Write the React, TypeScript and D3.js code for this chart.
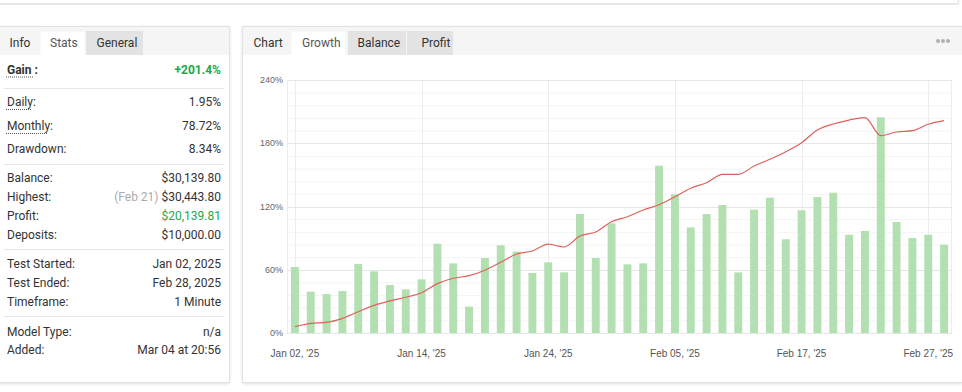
import React from "react";
import * as d3 from "d3";

// trading days, Jan 02 .. Feb 28 2025
const days = [
  "Jan 02", "Jan 03", "Jan 06", "Jan 07", "Jan 08", "Jan 09", "Jan 10",
  "Jan 13", "Jan 14", "Jan 15", "Jan 16", "Jan 17", "Jan 20", "Jan 21",
  "Jan 22", "Jan 23", "Jan 24", "Jan 27", "Jan 28", "Jan 29", "Jan 30",
  "Jan 31", "Feb 03", "Feb 04", "Feb 05", "Feb 06", "Feb 07", "Feb 10",
  "Feb 11", "Feb 12", "Feb 13", "Feb 14", "Feb 17", "Feb 18", "Feb 19",
  "Feb 20", "Feb 21", "Feb 24", "Feb 25", "Feb 26", "Feb 27", "Feb 28",
];

const bars = [
  62.6, 39.2, 37, 39.8, 65.5, 58.5, 45.5, 41.4, 50.9, 84.7, 66.1, 25, 71.1,
  83.2, 77.2, 56.9, 67, 57.5, 112.9, 71.1, 104, 65.1, 66.1, 158.7, 131.5,
  100.2, 112.9, 121.4, 57.5, 117, 128.4, 88.9, 116.4, 129, 133.1, 93.2, 96.8,
  204.6, 105.3, 90.1, 93.2, 83.8,
];

const growth = [
  6.0, 9.2, 10.1, 13.9, 20.2, 26.2, 30.4, 33.9, 38.2, 46.8, 51.9, 54.4, 59.5,
  67.1, 74.9, 77.8, 84.4, 81.6, 92, 95.8, 105.6, 110.3, 116.7, 121.7, 129.3,
  137.3, 142.6, 150.5, 150.5, 158.4, 164.8, 172, 180.5, 192.6, 198.3, 202,
  204.3, 187.2, 190.7, 191.9, 198, 201.4,
];

const yTicks = [0, 60, 120, 180, 240];
const xTicks = ["Jan 02", "Jan 14", "Jan 24", "Feb 05", "Feb 17", "Feb 27"];

const groupA = [
  ["Daily:", "1.95%"],
  ["Monthly:", "78.72%"],
  ["Drawdown:", "8.34%"],
];
const groupB = [
  ["Balance:", "$30,139.80"],
  ["Highest:", "$30,443.80"],
  ["Profit:", "$20,139.81"],
  ["Deposits:", "$10,000.00"],
];
const groupC = [
  ["Test Started:", "Jan 02, 2025"],
  ["Test Ended:", "Feb 28, 2025"],
  ["Timeframe:", "1 Minute"],
];
const groupD = [
  ["Model Type:", "n/a"],
  ["Added:", "Mar 04 at 20:56"],
];
// dotted underline widths for the hinted labels
const hintWidths = [26, 41];

const UI = "Roboto, 'Noto Sans', sans-serif";
const AX = "'Liberation Sans', Arial, sans-serif";
const GREEN = "#22a845";

const App = () => {
  const x = d3.scaleBand().domain(days).range([287, 952]).paddingInner(0.5).paddingOuter(0.25);
  const y = d3.scaleLinear().domain([0, 240]).range([333, 80]);
  const cx = (d: string) => (x(d) as number) + x.bandwidth() / 2;

  const line = d3
    .line<number>()
    .x((_, i) => cx(days[i]))
    .y((d) => y(d))
    .curve(d3.curveMonotoneX);

  const minor = d3.range(0, 241, 12).filter((v) => v % 60 !== 0);

  const rows = (items: string[][], baselines: number[], dotted: number = 0) =>
    items.map(([label, value], i) => {
      const yy = baselines[i];
      const valueFill = label === "Profit:" ? GREEN : "#333";
      return (
        <g key={label}>
          <text x={7} y={yy} fill="#333" fontSize={12}>{label}</text>
          {i < dotted && (
            <line x1={6} x2={6 + hintWidths[i]} y1={yy + 3.5} y2={yy + 3.5}
              stroke="#555" strokeWidth={1} strokeDasharray="1,1" />
          )}
          <text x={221} y={yy} fill={valueFill} fontSize={12} textAnchor="end">
            {label === "Highest:" && <tspan fill="#aaa">(Feb 21) </tspan>}
            {value}
          </text>
        </g>
      );
    });

  return (
    <svg width={962} height={392} style={{ position: "absolute", left: 0, top: 0 }} fontFamily={UI}>
      <defs>
        <filter id="sh" x="-5%" y="-5%" width="110%" height="115%">
          <feDropShadow dx="0" dy="1" stdDeviation="1.5" floodColor="#000" floodOpacity="0.12" />
        </filter>
      </defs>
      <rect width={962} height={392} fill="#fff" />

      {/* top card edge */}
      <rect x={-5} y={-10} width={963} height={13.5} fill="#fff" stroke="#e4e4e4" filter="url(#sh)" />

      {/* left panel */}
      <rect x={-1} y={26.5} width={230.5} height={356} fill="#fff" stroke="#e2e2e2" filter="url(#sh)" />
      <rect x={-0.5} y={27} width={229.5} height={28} fill="#f5f5f5" />
      <rect x={40.5} y={31.5} width={44} height={23.5} fill="#fff" />
      <rect x={86} y={31} width={57} height={24} fill="#e3e3e3" />
      <text x={9.5} y={46.5} fontSize={12} fill="#333">Info</text>
      <text x={50} y={46.5} fontSize={12} fill="#555">Stats</text>
      <text x={96.5} y={46.5} fontSize={12} fill="#333">General</text>

      <text x={7} y={74} fontSize={12} fontWeight="bold" fill="#333">Gain :</text>
      <line x1={6} x2={33} y1={77} y2={77} stroke="#555" strokeDasharray="1,1" />
      <text x={221} y={74} fontSize={12} fontWeight="bold" fill={GREEN} textAnchor="end">+201.4%</text>

      {[88.5, 164.5, 249.5, 316.5].map((s) => (
        <line key={s} x1={4} x2={224} y1={s} y2={s} stroke="#e6e6e6" />
      ))}
      {rows(groupA, [106, 130, 153], 2)}
      {rows(groupB, [182, 201, 220, 239])}
      {rows(groupC, [268, 287, 306])}
      {rows(groupD, [335.5, 354])}

      {/* right panel */}
      <rect x={242.5} y={26.5} width={720} height={356} fill="#fff" stroke="#e2e2e2" filter="url(#sh)" />
      <rect x={243} y={27} width={719} height={28} fill="#f5f5f5" />
      <rect x={291.5} y={31.5} width={54} height={23.5} fill="#fff" />
      <rect x={348} y={31} width={58} height={24} fill="#e3e3e3" />
      <rect x={407} y={31} width={46} height={24} fill="#e3e3e3" />
      <text x={253.5} y={47} fontSize={12} fill="#333">Chart</text>
      <text x={302} y={47} fontSize={12} fill="#555">Growth</text>
      <text x={357.5} y={47} fontSize={12} fill="#333">Balance</text>
      <text x={421.5} y={47} fontSize={12} fill="#333">Profit</text>
      {[938, 943, 948].map((c) => (
        <circle key={c} cx={c} cy={41} r={2} fill="#b0b0b0" />
      ))}

      {/* grid */}
      {minor.map((v) => (
        <line key={v} x1={287} x2={952} y1={y(v) + 0.5} y2={y(v) + 0.5} stroke="#f4f4f4" />
      ))}
      {xTicks.map((d) => (
        <line key={d} x1={Math.round(cx(d)) + 0.5} x2={Math.round(cx(d)) + 0.5} y1={80} y2={333} stroke="#ececec" />
      ))}
      {[287.5, 951.5].map((v) => (
        <line key={v} x1={v} x2={v} y1={80} y2={333} stroke="#ececec" />
      ))}
      {yTicks.map((v) => (
        <g key={v}>
          <line x1={287} x2={952} y1={Math.round(y(v)) + 0.5} y2={Math.round(y(v)) + 0.5} stroke="#e6e6e6" />
          <text x={283} y={y(v) + 3} fontSize={9} fill="#666" textAnchor="end" fontFamily={AX}>{v}%</text>
        </g>
      ))}

      {/* bars */}
      {days.map((d, i) => (
        <rect key={d} x={x(d)} y={y(bars[i])} width={x.bandwidth()} height={y(0) - y(bars[i])} fill="#b2e0b0" />
      ))}

      {/* growth line */}
      <path d={line(growth) as string} fill="none" stroke="#e0605a" strokeWidth={1.2} />

      {/* x labels */}
      {xTicks.map((d) => (
        <text key={d} x={cx(d)} y={357} fontSize={10} fill="#555" textAnchor="middle" fontFamily={AX}>
          {d}, '25
        </text>
      ))}
    </svg>
  );
};

export default App;
